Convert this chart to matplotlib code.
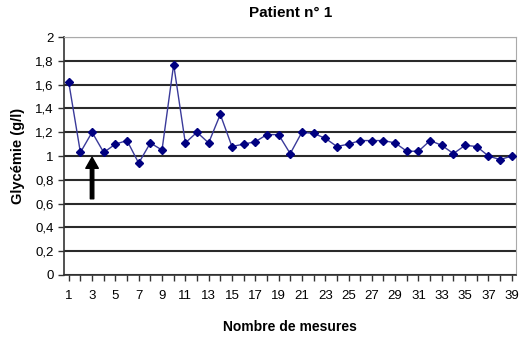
import matplotlib.pyplot as plt

plt.rcParams['font.family'] = ['Liberation Sans', 'DejaVu Sans']

mesures = list(range(1, 40))
glycemie = [1.62, 1.03, 1.20, 1.03, 1.10, 1.13, 0.94, 1.11, 1.05, 1.77,
            1.11, 1.20, 1.11, 1.35, 1.08, 1.10, 1.12, 1.18, 1.18, 1.02,
            1.20, 1.19, 1.15, 1.08, 1.10, 1.13, 1.13, 1.13, 1.11, 1.04,
            1.04, 1.13, 1.09, 1.02, 1.09, 1.08, 1.00, 0.97, 1.00]
y_ticks = [0, 0.2, 0.4, 0.6, 0.8, 1, 1.2, 1.4, 1.6, 1.8, 2]
y_labels = ['0', '0,2', '0,4', '0,6', '0,8', '1', '1,2', '1,4', '1,6', '1,8', '2']

fig = plt.figure(figsize=(5.21, 3.41), dpi=100)
ax = fig.add_axes([0.123, 0.194, 0.867, 0.697])

ax.plot(mesures, glycemie, color='#3a3a9a', lw=1.0, marker='D', markersize=4.5,
        markerfacecolor='#000080', markeredgecolor='#000080', zorder=3)

# arrow pointing at the third measurement
ax.annotate('', xy=(3, 0.99), xytext=(3, 0.64),
            arrowprops=dict(facecolor='black', edgecolor='black', width=2.5,
                            headwidth=9, headlength=8))

ax.set_xlim(0.6, 39.35)
ax.set_ylim(0, 2)
ax.set_xticks(mesures)
ax.set_xticklabels([str(m) if m % 2 == 1 else '' for m in mesures], fontsize=9.5)
ax.set_yticks(y_ticks)
ax.set_yticklabels(y_labels, fontsize=9.5)
ax.tick_params(axis='both', direction='out', length=4, width=1, color='#333333')
ax.tick_params(axis='x', pad=7)

ax.grid(axis='y', color='#2a2a2a', lw=1.5)
ax.set_axisbelow(True)
for side in ['top', 'right']:
    ax.spines[side].set_color('#aaaaaa')
for side in ['left', 'bottom']:
    ax.spines[side].set_color('#333333')
    ax.spines[side].set_linewidth(1.2)

fig.text(0.557, 0.962, 'Patient n° 1', fontsize=11, fontweight='bold',
         ha='center', va='center')
ax.set_xlabel('Nombre de mesures', fontsize=10, fontweight='bold', labelpad=13)
ax.set_ylabel('Glycémie (g/l)', fontsize=10.5, fontweight='bold', labelpad=7)

fig.savefig('out.png', dpi=100)
